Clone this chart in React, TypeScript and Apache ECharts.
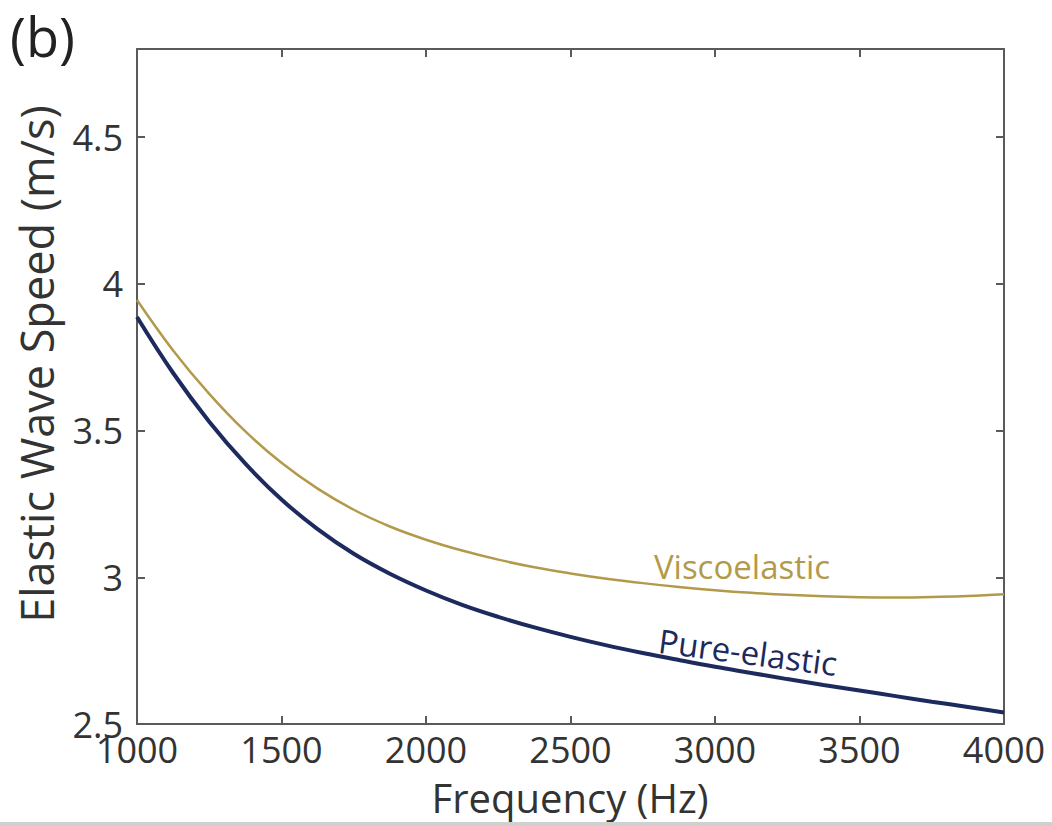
import React, { useEffect, useRef } from "react";
import * as echarts from "echarts";

const frequency = [1000, 1125, 1250, 1375, 1500, 1625, 1750, 1875, 2000, 2125, 2250, 2375, 2500, 2625, 2750, 2875, 3000, 3125, 3250, 3375, 3500, 3625, 3750, 3875, 4000];
const viscoelastic = [3.945, 3.773, 3.625, 3.497, 3.39, 3.302, 3.23, 3.173, 3.128, 3.091, 3.06, 3.034, 3.013, 2.995, 2.98, 2.967, 2.956, 2.947, 2.94, 2.935, 2.932, 2.931, 2.933, 2.936, 2.942];
const pureElastic = [3.887, 3.696, 3.53, 3.387, 3.265, 3.164, 3.08, 3.012, 2.955, 2.906, 2.865, 2.829, 2.797, 2.768, 2.742, 2.718, 2.695, 2.674, 2.653, 2.633, 2.614, 2.595, 2.576, 2.558, 2.539];
const xTicks = [1000, 1500, 2000, 2500, 3000, 3500, 4000];
const yTicks = [2.5, 3, 3.5, 4, 4.5];

const FONT = "'Open Sans', sans-serif";
const AXIS = "#5a5a5a";
const GOLD = "#b39a4a";
const NAVY = "#1c2a5e";

export default function App() {
  const ref = useRef<HTMLDivElement>(null);
  useEffect(() => {
    const chart = echarts.init(ref.current!, null, { renderer: "svg" });
    const axisCommon = {
      type: "value" as const,
      axisLine: { show: true, lineStyle: { color: AXIS, width: 2 } },
      axisTick: { show: true, inside: true, length: 8, lineStyle: { color: AXIS, width: 2 } },
      splitLine: { show: false },
    };
    chart.setOption({
      animation: false,
      grid: { left: 137, top: 49, right: 48, bottom: 102 },
      xAxis: [
        {
          ...axisCommon,
          position: "bottom",
          min: 1000,
          max: 4000,
          interval: 500,
          axisLabel: {
            show: true,
            margin: 15,
            fontSize: 36,
            lineHeight: 20,
            fontFamily: FONT,
            color: "#333",
            formatter: (v: number) => (xTicks.includes(v) ? String(v) : ""),
          },
        },
        {
          ...axisCommon,
          position: "top",
          min: 1000,
          max: 4000,
          interval: 500,
          axisLabel: { show: false },
        },
      ],
      yAxis: [
        {
          ...axisCommon,
          position: "left",
          min: 2.5,
          max: 4.8,
          interval: 0.5,
          axisLabel: {
            show: true,
            margin: 14,
            fontSize: 36,
            lineHeight: 20,
            padding: [0, 0, 6, 0],
            fontFamily: FONT,
            color: "#333",
            showMaxLabel: false,
            formatter: (v: number) => (yTicks.includes(v) ? String(v) : ""),
          },
        },
        {
          ...axisCommon,
          position: "right",
          min: 2.5,
          max: 4.8,
          interval: 0.5,
          axisLabel: { show: false },
        },
      ],
      series: [
        {
          name: "Viscoelastic",
          type: "line",
          smooth: 0.4,
          showSymbol: false,
          data: frequency.map((f, i) => [f, viscoelastic[i]]),
          lineStyle: { color: GOLD, width: 2.5 },
          itemStyle: { color: GOLD },
          z: 3,
        },
        {
          name: "Pure-elastic",
          type: "line",
          smooth: 0.4,
          showSymbol: false,
          data: frequency.map((f, i) => [f, pureElastic[i]]),
          lineStyle: { color: NAVY, width: 4 },
          itemStyle: { color: NAVY },
          z: 4,
        },
      ],
      graphic: [
        {
          type: "text",
          x: 10,
          y: 36,
          style: {
            text: "(b)",
            fontSize: 54,
            fontFamily: FONT,
            fill: "#222",
            verticalAlign: "middle",
          },
        },
        {
          type: "text",
          x: 36,
          y: 364,
          rotation: Math.PI / 2,
          style: {
            text: "Elastic Wave Speed (m/s)",
            fontSize: 45,
            fontFamily: FONT,
            fill: "#333",
            align: "center",
            verticalAlign: "middle",
          },
        },
        {
          type: "text",
          x: 570,
          y: 797,
          style: {
            text: "Frequency (Hz)",
            fontSize: 40,
            fontFamily: FONT,
            fill: "#333",
            align: "center",
            verticalAlign: "middle",
          },
        },
        {
          type: "text",
          x: 742,
          y: 566,
          style: {
            text: "Viscoelastic",
            fontSize: 33,
            fontFamily: FONT,
            fill: GOLD,
            align: "center",
            verticalAlign: "middle",
          },
        },
        {
          type: "text",
          x: 748,
          y: 652,
          rotation: -0.13,
          style: {
            text: "Pure-elastic",
            fontSize: 33,
            fontFamily: FONT,
            fill: NAVY,
            align: "center",
            verticalAlign: "middle",
          },
        },
        {
          type: "rect",
          shape: { x: 0, y: 822, width: 1052, height: 4 },
          style: { fill: "#d0d0d0" },
        },
      ],
    });
    return () => chart.dispose();
  }, []);
  return (
    <div
      ref={ref}
      style={{ position: "fixed", left: 0, top: 0, width: 1052, height: 826, background: "#fff" }}
    />
  );
}
